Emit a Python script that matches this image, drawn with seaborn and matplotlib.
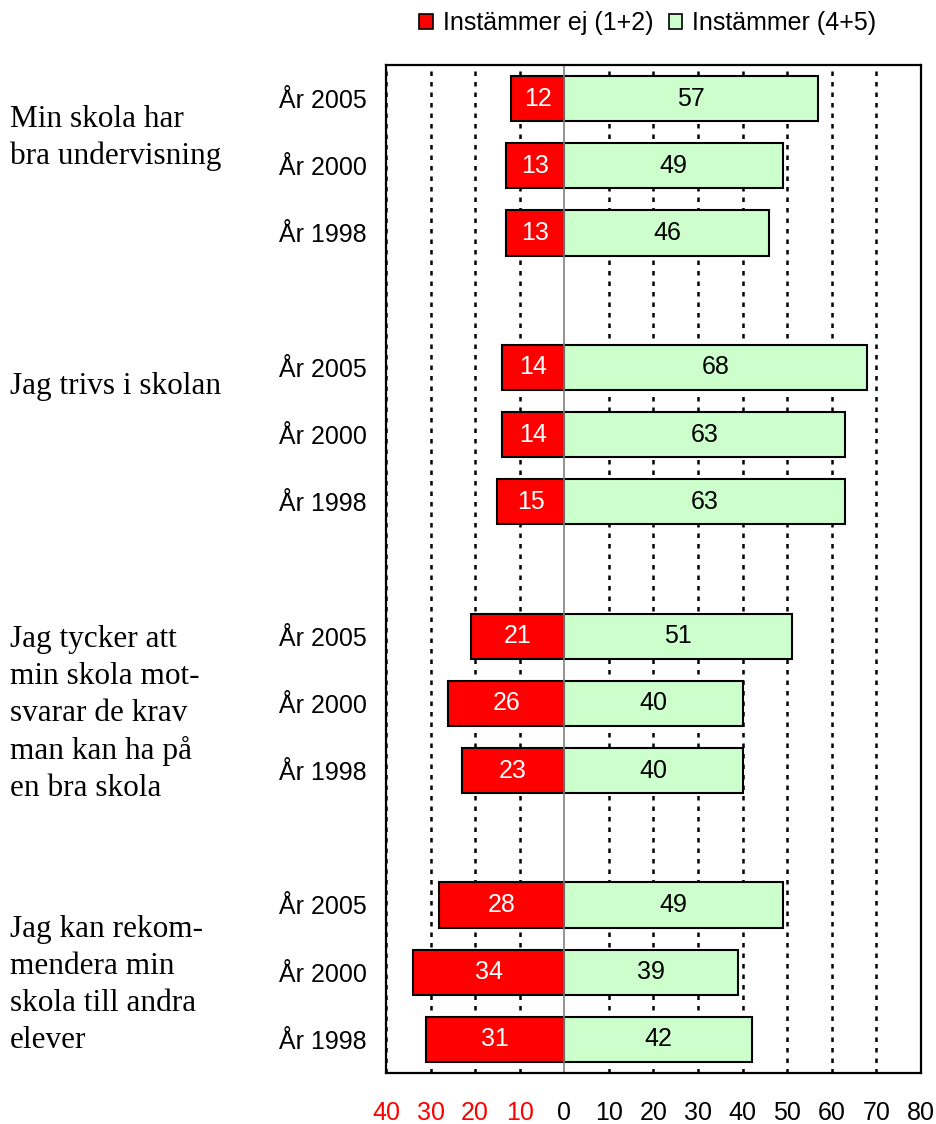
import pandas as pd
import matplotlib.pyplot as plt
import seaborn as sns
from matplotlib.patches import Patch

# Data
statements = [
    "Min skola har\nbra undervisning",
    "Jag trivs i skolan",
    "Jag tycker att\nmin skola mot-\nsvarar de krav\nman kan ha på\nen bra skola",
    "Jag kan rekom-\nmendera min\nskola till andra\nelever",
]
years = ["År 2005", "År 2000", "År 1998"]
disagree = [12, 13, 13, 14, 14, 15, 21, 26, 23, 28, 34, 31]
agree = [57, 49, 46, 68, 63, 63, 51, 40, 40, 49, 39, 42]
series_names = ["Instämmer ej (1+2)", "Instämmer (4+5)"]
xticks = list(range(-40, 81, 10))

# Build rows, with an empty slot between statement groups
rows, order, tick_labels = [], [], []
for g, stmt in enumerate(statements):
    if g > 0:
        order.append(f"gap{g}")
        tick_labels.append("")
    for y, year in enumerate(years):
        key = f"{g}_{year}"
        order.append(key)
        tick_labels.append(year)
        rows.append({"row": key, "neg": -disagree[g * 3 + y], "pos": agree[g * 3 + y]})
df = pd.DataFrame(rows)

sns.set_style("white")
plt.rcParams["font.family"] = ["Liberation Sans", "DejaVu Sans"]
plt.rcParams["text.color"] = "black"
plt.rcParams["xtick.color"] = "black"
plt.rcParams["ytick.color"] = "black"

red = "#FF0000"
green = "#CCFFCC"
fs = 18

fig = plt.figure(figsize=(9.36, 11.24), dpi=100)
ax = fig.add_axes([386 / 936, 1 - 1073 / 1124, 535 / 936, 1008 / 1124])

sns.barplot(data=df, x="neg", y="row", order=order, orient="h", color=red,
            saturation=1, edgecolor="black", linewidth=1.5, width=0.67, ax=ax)
sns.barplot(data=df, x="pos", y="row", order=order, orient="h", color=green,
            saturation=1, edgecolor="black", linewidth=1.5, width=0.67, ax=ax)

ax.bar_label(ax.containers[0], fmt=lambda v: f"{abs(v):.0f}", label_type="center",
             color="white", fontsize=fs)
ax.bar_label(ax.containers[1], fmt=lambda v: f"{abs(v):.0f}", label_type="center",
             color="black", fontsize=fs)

ax.set_xlim(-40, 80)
ax.set_xticks(xticks)
ax.set_xticklabels([str(abs(t)) for t in xticks], fontsize=fs)
for lbl, t in zip(ax.get_xticklabels(), xticks):
    lbl.set_color(red if t < 0 else "black")
ax.tick_params(axis="x", direction="out", length=7, width=1.2, color="#555555", pad=13)

ax.set_yticks(range(len(order)))
ax.set_yticklabels(tick_labels, fontsize=fs)
ax.tick_params(axis="y", length=0, pad=14)
ax.set_xlabel("")
ax.set_ylabel("")

ax.xaxis.grid(True, linestyle=(0, (1.8, 2.4)), color="black", linewidth=1.8)
ax.set_axisbelow(True)
ax.xaxis.get_gridlines()[xticks.index(0)].set_visible(False)
ax.axvline(0, color="#808080", linewidth=1.2, zorder=1)

for s in ax.spines.values():
    s.set_visible(True)
    s.set_color("black")
    s.set_linewidth(1.6)

# Statement labels on the left
label_y = [138, 386, 714, 985]
for stmt, yp in zip(statements, label_y):
    fig.text(10 / 936, 1 - yp / 1124, stmt, ha="left", va="center",
             family=["Liberation Serif", "DejaVu Serif"], fontsize=22.5, linespacing=1.36)

handles = [Patch(facecolor=red, edgecolor="black", linewidth=1.2),
           Patch(facecolor=green, edgecolor="black", linewidth=1.2)]
fig.legend(handles, series_names, loc="center", bbox_to_anchor=(648 / 936, 1 - 23 / 1124),
           ncol=2, frameon=False, fontsize=fs, handlelength=0.55, handleheight=0.55,
           handletextpad=0.4, columnspacing=0.6)

plt.savefig("out.png", dpi=100)
